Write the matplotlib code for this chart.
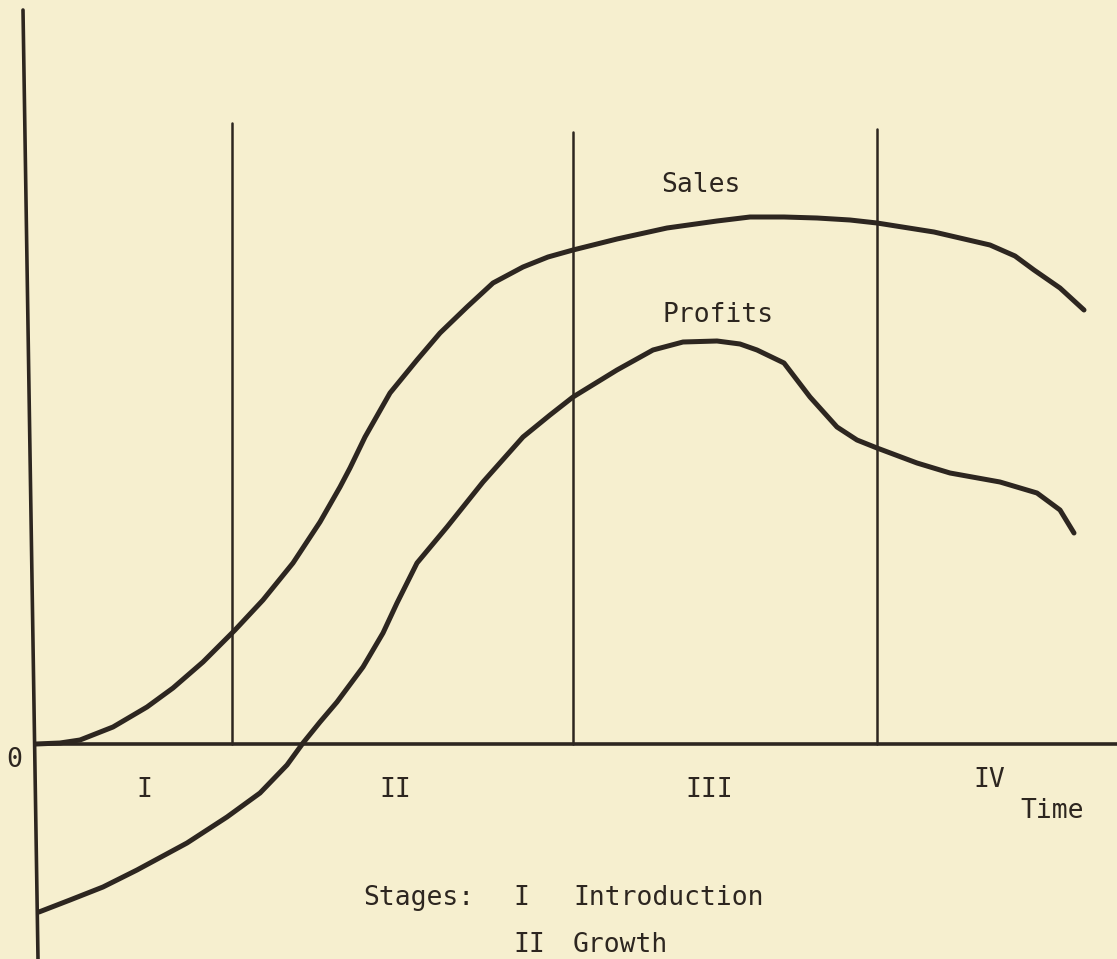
import matplotlib
matplotlib.use('Agg')
import matplotlib.pyplot as plt

# product life cycle
# time axis starts at 0 on the vertical axis, values are arbitrary units
sales_t = [0.01, 0.25, 0.45, 0.78, 1.12, 1.38, 1.68, 2.00, 2.28, 2.58, 2.85, 3.05, 3.15, 3.30,
           3.55, 3.82, 4.05, 4.32, 4.58, 4.88, 5.13, 5.38, 5.82, 6.32, 6.82, 7.15, 7.49, 7.82,
           8.15, 8.42, 8.99, 9.55, 9.80, 9.99, 10.25, 10.49]
sales_v = [0.0, 0.01, 0.04, 0.17, 0.37, 0.56, 0.82, 1.14, 1.44, 1.81, 2.22, 2.57, 2.76, 3.07,
           3.51, 3.84, 4.11, 4.37, 4.61, 4.77, 4.87, 4.94, 5.05, 5.16, 5.23, 5.27, 5.27, 5.26,
           5.24, 5.21, 5.12, 4.99, 4.88, 4.74, 4.56, 4.34]

profit_t = [0.04, 0.35, 0.68, 1.02, 1.52, 1.92, 2.25, 2.52, 2.68, 2.85, 3.02, 3.28, 3.48, 3.62,
            3.82, 4.12, 4.48, 4.88, 5.15, 5.38, 5.82, 6.18, 6.48, 6.82, 7.05, 7.22, 7.49, 7.75,
            8.02, 8.22, 8.42, 8.82, 9.15, 9.65, 10.02, 10.25, 10.39]
profit_v = [-1.68, -1.56, -1.43, -1.26, -0.99, -0.73, -0.49, -0.21, 0.01, 0.22, 0.42, 0.77, 1.11, 1.41,
            1.81, 2.17, 2.62, 3.07, 3.29, 3.47, 3.74, 3.94, 4.02, 4.03, 4.00, 3.94, 3.81, 3.47,
            3.17, 3.04, 2.96, 2.81, 2.71, 2.62, 2.51, 2.34, 2.11]

stage_bounds = [1.97, 5.38, 8.42]
stage_tops = [6.21, 6.12, 6.15]
stage_names = ['I', 'II', 'III', 'IV']
stage_label_t = [1.09, 3.60, 6.74, 9.54]
stage_label_v = [-0.53, -0.53, -0.53, -0.43]

bg = '#F6EFCF'
ink = '#2D2620'
font = 'DejaVu Sans Mono'

fig = plt.figure(figsize=(11.17, 9.59), dpi=100, facecolor=bg)
ax = fig.add_axes([0, 0, 1, 1])
ax.set_facecolor(bg)
ax.set_xlim(-0.35, 10.82)
ax.set_ylim(-2.15, 7.44)
ax.axis('off')

# axes drawn by hand (the vertical one leans a little, like the original)
ax.plot([-0.12, 0.03], [7.34, -2.15], color=ink, lw=2.6, solid_capstyle='round')
ax.plot([0.0, 10.82], [0, 0], color=ink, lw=2.6)

# stage boundaries
for b, top in zip(stage_bounds, stage_tops):
    ax.plot([b, b], [0, top], color=ink, lw=1.8, solid_capstyle='round')

ax.plot(sales_t, sales_v, color=ink, lw=3.6, solid_joinstyle='round', solid_capstyle='round')
ax.plot(profit_t, profit_v, color=ink, lw=3.6, solid_joinstyle='round', solid_capstyle='round')

txt = dict(color=ink, family=font, fontsize=19, va='baseline')
ax.text(-0.21, -0.23, '0', ha='center', **txt)
for name, t, v in zip(stage_names, stage_label_t, stage_label_v):
    ax.text(t, v, name, ha='center', **txt)
ax.text(10.17, -0.74, 'Time', ha='center', **txt)
ax.text(6.66, 5.52, 'Sales', ha='center', **txt)
ax.text(6.83, 4.22, 'Profits', ha='center', **txt)

ax.text(3.28, -1.61, 'Stages:', ha='left', **txt)
ax.text(4.78, -1.61, 'I', ha='left', **txt)
ax.text(5.38, -1.61, 'Introduction', ha='left', **txt)
ax.text(4.78, -2.08, 'II', ha='left', **txt)
ax.text(5.38, -2.08, 'Growth', ha='left', **txt)

fig.savefig('out.png', dpi=100, facecolor=bg)
